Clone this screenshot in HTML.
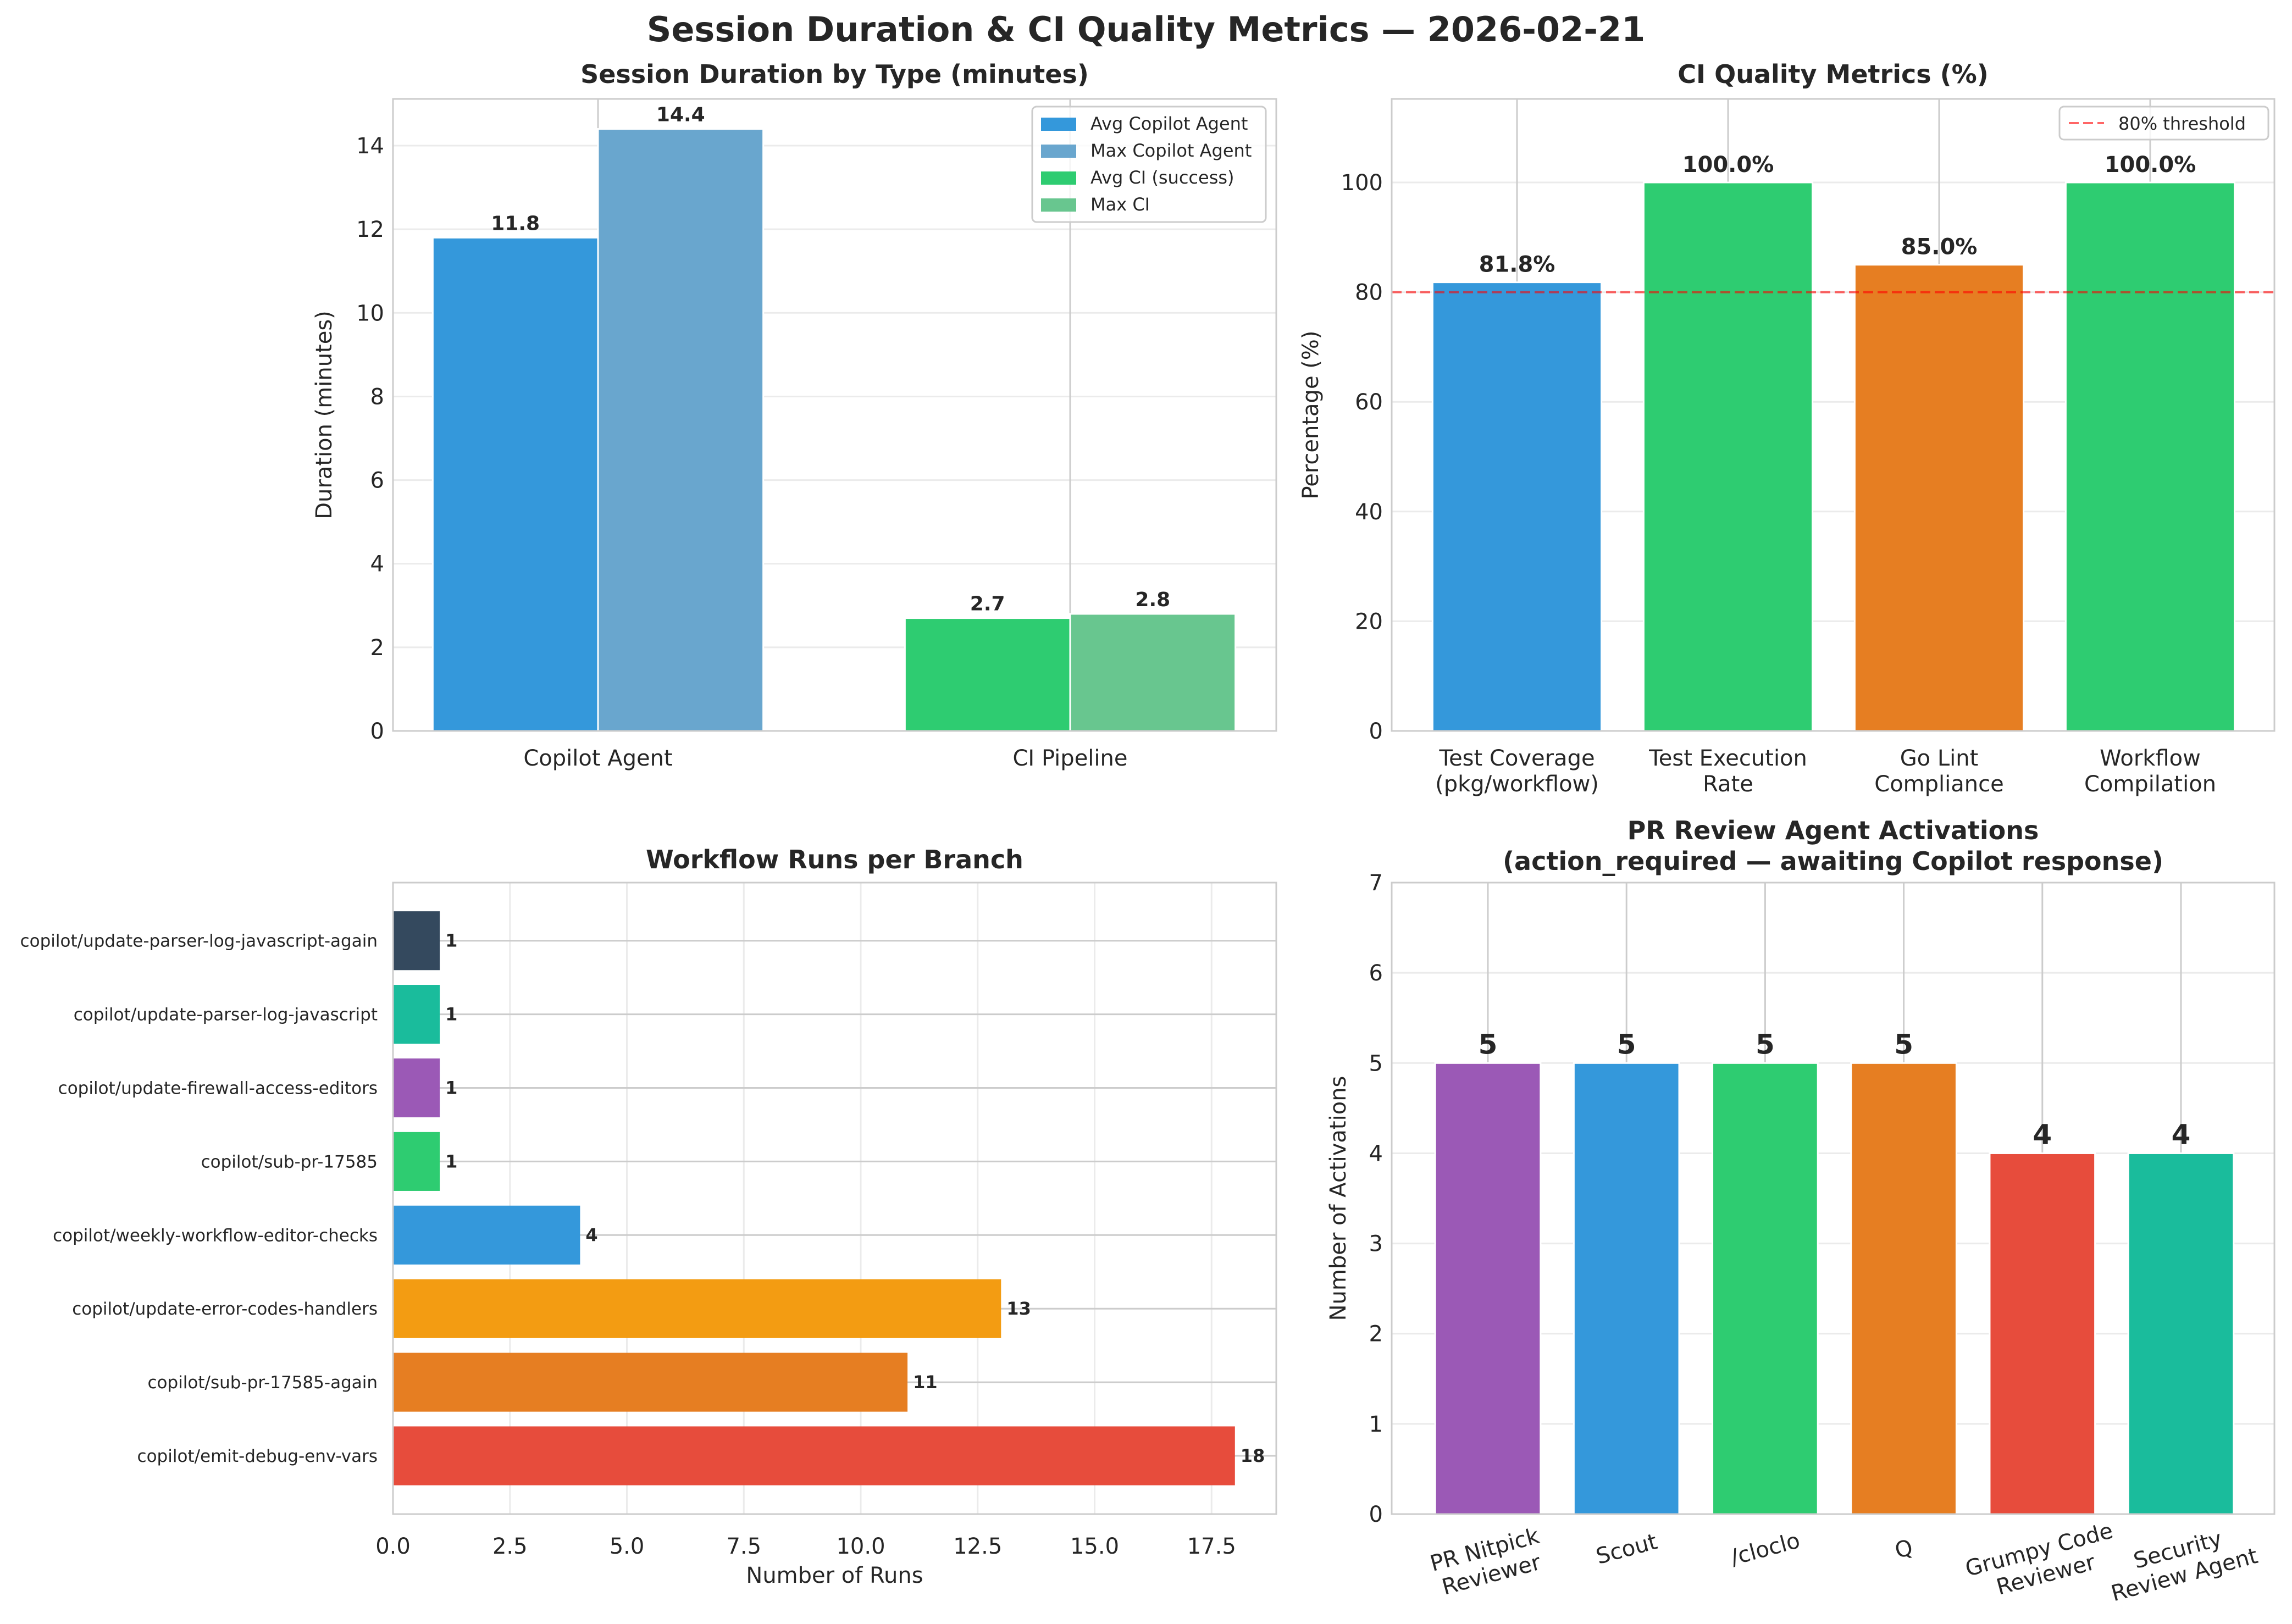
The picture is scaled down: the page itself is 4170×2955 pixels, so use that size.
<!DOCTYPE html>
<html><head><meta charset="utf-8"><style>
html,body{margin:0;padding:0;background:#fff;}
svg{display:block;font-family:"DejaVu Sans","Liberation Sans",sans-serif;}
</style></head><body>
<svg id="fig" width="4170" height="2955" viewBox="0 0 4170 2955" xmlns="http://www.w3.org/2000/svg">
<text x="2085" y="75" text-anchor="middle" font-size="62" font-weight="bold" fill="#262626">Session Duration &amp; CI Quality Metrics — 2026-02-21</text>
</svg>
<script>
// ---- data: top-left ----
const durCategories = ["Copilot Agent", "CI Pipeline"];
const durAvg = [11.8, 2.7];
const durMax = [14.4, 2.8];
const durTicks = [0, 2, 4, 6, 8, 10, 12, 14];
// ---- data: top-right ----
const ciCategories = [["Test Coverage","(pkg/workflow)"],["Test Execution","Rate"],["Go Lint","Compliance"],["Workflow","Compilation"]];
const ciValues = [81.8, 100.0, 85.0, 100.0];
const ciTicks = [0, 20, 40, 60, 80, 100];
const ciThreshold = [80];
// ---- data: bottom-left ----
const branchNames = ["copilot/emit-debug-env-vars","copilot/sub-pr-17585-again","copilot/update-error-codes-handlers","copilot/weekly-workflow-editor-checks","copilot/sub-pr-17585","copilot/update-firewall-access-editors","copilot/update-parser-log-javascript","copilot/update-parser-log-javascript-again"];
const branchRuns = [18, 11, 13, 4, 1, 1, 1, 1];
const branchTicks = [0, 2.5, 5, 7.5, 10, 12.5, 15, 17.5];
// ---- data: bottom-right ----
const agentNames = [["PR Nitpick","Reviewer"],["Scout"],["/cloclo"],["Q"],["Grumpy Code","Reviewer"],["Security","Review Agent"]];
const agentCounts = [5, 5, 5, 5, 4, 4];
const agentTicks = [0, 1, 2, 3, 4, 5, 6, 7];

const branchColors = ["#e74c3c","#e67e22","#f39c12","#3498db","#2ecc71","#9b59b6","#1abc9c","#34495e"];
const agentColors = ["#9b59b6","#3498db","#2ecc71","#e67e22","#e74c3c","#1abc9c"];
const ciColors = ["#3498db","#2ecc71","#e67e22","#2ecc71"];

const NS = "http://www.w3.org/2000/svg";
const svg = document.getElementById("fig");
function mk(parent, tag, attrs, name) {
  const el = document.createElementNS(NS, tag);
  for (const k in attrs) el.setAttribute(k, attrs[k]);
  
  
  parent.appendChild(el);
  return el;
}
function txt(parent, x, y, s, size, opts, name) {
  const a = Object.assign({x: x, y: y, "font-size": size, fill: "#262626", "text-anchor": "middle"}, opts || {});
  const el = mk(parent, "text", a, name);
  el.textContent = s;
  return el;
}
function frame(g, L, T, R, B, name) {
  mk(g, "rect", {x: L, y: T, width: R - L, height: B - T, fill: "none", stroke: "#cccccc", "stroke-width": 3}, name);
}

// ================= Top-left =================
(function () {
  const L = 715, R = 2322, T = 180, B = 1330;
  const g = mk(svg, "g", {}, "duration-chart");
  const ys = v => B - v * 76.07;
  const xs = v => 1088 + v * 859;
  txt(g, (L + R) / 2, 151, "Session Duration by Type (minutes)", 46, {"font-weight": "bold"}, "duration-chart-title");
  durTicks.forEach(t => {
    mk(g, "line", {x1: L, x2: R, y1: ys(t), y2: ys(t), stroke: "#ebebeb", "stroke-width": 3}, "y-gridline");
    txt(g, L - 16, ys(t) + 14, String(t), 40, {"text-anchor": "end"}, "y-tick-label");
  });
  durCategories.forEach((c, i) => {
    mk(g, "line", {x1: xs(i), x2: xs(i), y1: T, y2: B, stroke: "#cccccc", "stroke-width": 3}, "x-gridline");
    txt(g, xs(i), 1393, c, 40, {}, "x-tick-label");
  });
  const bw = 0.35 * 859;
  durCategories.forEach((c, i) => {
    const avgFill = i === 0 ? "#3498db" : "#2ecc71";
    const maxFill = i === 0 ? "#69a6ce" : "#68c68f";
    [[durAvg[i], avgFill, -0.175, "bar-avg"], [durMax[i], maxFill, 0.175, "bar-max"]].forEach(s => {
      const cx = xs(i + s[2]);
      mk(g, "rect", {x: cx - bw / 2, y: ys(s[0]), width: bw, height: B - ys(s[0]), fill: s[1], stroke: "#fff", "stroke-width": 3}, s[3]);
      txt(g, cx, ys(s[0]) - 14, s[0].toFixed(1), 36, {"font-weight": "bold"}, "bar-value-label");
    });
  });
  frame(g, L, T, R, B, "duration-axes-frame");
  txt(g, 0, 0, "Duration (minutes)", 40, {transform: "translate(603," + (T + B) / 2 + ") rotate(-90)"}, "y-axis-title");
  const lg = mk(g, "g", {}, "duration-legend");
  mk(lg, "rect", {x: 1878, y: 194, width: 425, height: 210, rx: 8, fill: "#fff", "fill-opacity": 0.8, stroke: "#cccccc", "stroke-width": 3}, "legend-box");
  const items = [["Avg Copilot Agent", "#3498db"], ["Max Copilot Agent", "#69a6ce"], ["Avg CI (success)", "#2ecc71"], ["Max CI", "#68c68f"]];
  items.forEach((it, k) => {
    const y = 224 + k * 49;
    mk(lg, "rect", {x: 1894, y: y - 10, width: 64, height: 24, fill: it[1]}, "legend-swatch");
    txt(lg, 1984, y + 12, it[0], 32, {"text-anchor": "start"}, "legend-entry");
  });
})();

// ================= Top-right =================
(function () {
  const L = 2532, R = 4138, T = 180, B = 1330;
  const g = mk(svg, "g", {}, "ci-quality-chart");
  const ys = v => B - v * 9.98;
  const xs = v => 2760 + v * 384;
  txt(g, (L + R) / 2, 151, "CI Quality Metrics (%)", 46, {"font-weight": "bold"}, "ci-chart-title");
  ciTicks.forEach(t => {
    mk(g, "line", {x1: L, x2: R, y1: ys(t), y2: ys(t), stroke: "#ebebeb", "stroke-width": 3}, "y-gridline");
    txt(g, L - 16, ys(t) + 14, String(t), 40, {"text-anchor": "end"}, "y-tick-label");
  });
  const bw = 0.8 * 384;
  ciCategories.forEach((c, i) => {
    mk(g, "line", {x1: xs(i), x2: xs(i), y1: T, y2: B, stroke: "#cccccc", "stroke-width": 3}, "x-gridline");
    mk(g, "rect", {x: xs(i) - bw / 2, y: ys(ciValues[i]), width: bw, height: B - ys(ciValues[i]), fill: ciColors[i], stroke: "#fff", "stroke-width": 3}, "ci-bar");
    txt(g, xs(i), ys(ciValues[i]) - 19, ciValues[i].toFixed(1) + "%", 40, {"font-weight": "bold"}, "bar-value-label");
    c.forEach((line, k) => txt(g, xs(i), 1393 + k * 47, line, 40, {}, "x-tick-label"));
  });
  ciThreshold.forEach(v => {
    mk(g, "line", {x1: L, x2: R, y1: ys(v), y2: ys(v), stroke: "#ff0000", "stroke-opacity": 0.6, "stroke-width": 4, "stroke-dasharray": "18 8"}, "threshold-line");
  });
  frame(g, L, T, R, B, "ci-axes-frame");
  txt(g, 0, 0, "Percentage (%)", 40, {transform: "translate(2398," + (T + B) / 2 + ") rotate(-90)"}, "y-axis-title");
  const lg = mk(g, "g", {}, "ci-legend");
  mk(lg, "rect", {x: 3747, y: 194, width: 380, height: 60, rx: 8, fill: "#fff", "fill-opacity": 0.8, stroke: "#cccccc", "stroke-width": 3}, "legend-box");
  mk(lg, "line", {x1: 3764, x2: 3828, y1: 224, y2: 224, stroke: "#ff0000", "stroke-opacity": 0.6, "stroke-width": 4, "stroke-dasharray": "18 8"}, "legend-swatch");
  txt(lg, 3854, 236, "80% threshold", 32, {"text-anchor": "start"}, "legend-entry");
})();

// ================= Bottom-left =================
(function () {
  const L = 715, R = 2322, T = 1606, B = 2755;
  const g = mk(svg, "g", {}, "branch-runs-chart");
  const xs = v => L + v * 85.1;
  const ys = i => 2649 - i * 133.9;
  txt(g, (L + R) / 2, 1580, "Workflow Runs per Branch", 46, {"font-weight": "bold"}, "branch-chart-title");
  branchTicks.forEach(t => {
    mk(g, "line", {x1: xs(t), x2: xs(t), y1: T, y2: B, stroke: "#ebebeb", "stroke-width": 3}, "x-gridline");
    txt(g, xs(t), 2827, t.toFixed(1), 40, {}, "x-tick-label");
  });
  const bh = 0.8 * 133.9;
  branchNames.forEach((n, i) => {
    mk(g, "line", {x1: L, x2: R, y1: ys(i), y2: ys(i), stroke: "#cccccc", "stroke-width": 3}, "y-gridline");
    mk(g, "rect", {x: L, y: ys(i) - bh / 2, width: xs(branchRuns[i]) - L, height: bh, fill: branchColors[i]}, "branch-bar");
    txt(g, xs(branchRuns[i]) + 10, ys(i) + 11, String(branchRuns[i]), 32, {"font-weight": "bold", "text-anchor": "start"}, "bar-value-label");
    txt(g, L - 28, ys(i) + 11, n, 31, {"text-anchor": "end"}, "y-tick-label");
  });
  frame(g, L, T, R, B, "branch-axes-frame");
  txt(g, (L + R) / 2, 2880, "Number of Runs", 40, {}, "x-axis-title");
})();

// ================= Bottom-right =================
(function () {
  const L = 2532, R = 4138, T = 1606, B = 2755;
  const g = mk(svg, "g", {}, "agent-activations-chart");
  const ys = v => B - v * 164.14;
  const xs = v => 2707 + v * 252.2;
  txt(g, (L + R) / 2, 1527, "PR Review Agent Activations", 46, {"font-weight": "bold"}, "agent-chart-title");
  txt(g, (L + R) / 2, 1583, "(action_required — awaiting Copilot response)", 46, {"font-weight": "bold"}, "agent-chart-subtitle");
  agentTicks.forEach(t => {
    mk(g, "line", {x1: L, x2: R, y1: ys(t), y2: ys(t), stroke: "#ebebeb", "stroke-width": 3}, "y-gridline");
    txt(g, L - 16, ys(t) + 14, String(t), 40, {"text-anchor": "end"}, "y-tick-label");
  });
  const bw = 0.76 * 252.2;
  agentNames.forEach((n, i) => {
    mk(g, "line", {x1: xs(i), x2: xs(i), y1: T, y2: B, stroke: "#cccccc", "stroke-width": 3}, "x-gridline");
    mk(g, "rect", {x: xs(i) - bw / 2, y: ys(agentCounts[i]), width: bw, height: B - ys(agentCounts[i]), fill: agentColors[i], stroke: "#fff", "stroke-width": 3}, "agent-bar");
    txt(g, xs(i), ys(agentCounts[i]) - 17, String(agentCounts[i]), 50, {"font-weight": "bold"}, "bar-value-label");
    const cy = n.length === 1 ? 2818 : 2842;
    const tg = mk(g, "g", {transform: "translate(" + xs(i) + "," + cy + ") rotate(-15)"}, "x-tick-label");
    n.forEach((line, k) => txt(tg, 0, (k - (n.length - 1) / 2) * 47 + 14, line, 40, {}, "x-tick-label-line"));
  });
  frame(g, L, T, R, B, "agent-axes-frame");
  txt(g, 0, 0, "Number of Activations", 40, {transform: "translate(2448," + (T + B) / 2 + ") rotate(-90)"}, "y-axis-title");
})();
</script>
</body></html>
